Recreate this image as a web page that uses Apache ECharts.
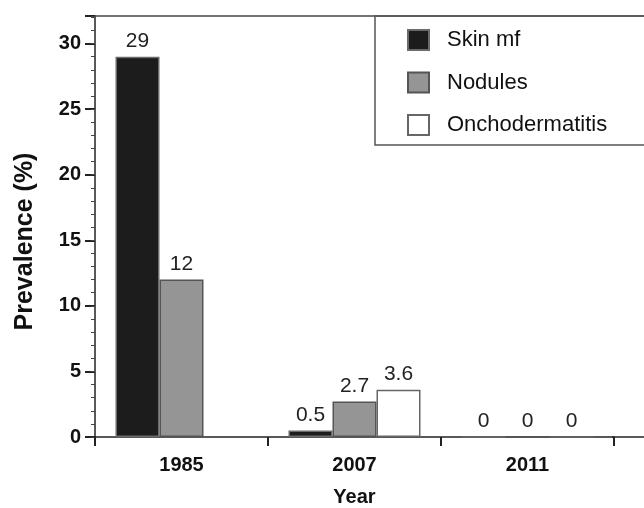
<!DOCTYPE html>
<html><head><meta charset="utf-8">
<script src="https://cdn.jsdelivr.net/npm/echarts@6/dist/echarts.min.js"></script>
<style>html,body{margin:0;padding:0;background:#fff}#c{width:644px;height:508px}</style>
</head><body><div id="c"></div>
<script>
var years = ['1985', '2007', '2011'];
var skinMf = [29, 0.5, 0];
var nodules = [12, 2.7, 0];
var onchodermatitis = [null, 3.6, 0];
var majorTicks = [0, 5, 10, 15, 20, 25, 30];

var chart = echarts.init(document.getElementById('c'));
var F = 'Liberation Sans, Arial, sans-serif';
function bar(name, data, fill, border) {
  return {
    name: name, type: 'bar', data: data, barWidth: 44, barGap: '0%',
    itemStyle: {color: fill, borderColor: border, borderWidth: 1.5},
    label: {show: true, position: 'top', distance: 5, fontFamily: F, fontSize: 21, color: '#222'}
  };
}
chart.setOption({
  animation: false,
  grid: {left: 95, right: 30, top: 16, bottom: 71, outerBoundsMode: 'none', containLabel: false},
  legend: {
    orient: 'vertical', left: 407, top: 29, padding: 0,
    itemGap: 20.5, itemWidth: 21, itemHeight: 20, icon: 'rect',
    textStyle: {fontFamily: F, fontSize: 22, color: '#111', lineHeight: 20, padding: [0, 0, 0, 13]},
    data: ['Skin mf', 'Nodules', 'Onchodermatitis']
  },
  xAxis: {
    type: 'category', data: years,
    axisLine: {lineStyle: {color: '#222', width: 1.5}},
    axisTick: {show: true, length: 9, lineStyle: {color: '#222', width: 2}},
    axisLabel: {fontFamily: F, fontSize: 20, fontWeight: 'bold', color: '#111', margin: 18},
    name: 'Year', nameLocation: 'middle', nameGap: 50,
    nameTextStyle: {fontFamily: F, fontSize: 20, fontWeight: 'bold', color: '#111'}
  },
  yAxis: [{
    type: 'value', min: 0, max: 32.1, interval: 5,
    splitLine: {show: false},
    axisLine: {show: true, lineStyle: {color: '#222', width: 1.5}},
    axisTick: {show: true, length: 10, lineStyle: {color: '#222', width: 2}},
    axisLabel: {fontFamily: F, fontSize: 20, fontWeight: 'bold', color: '#111', margin: 14,
      formatter: function (v) { return majorTicks.indexOf(v) >= 0 ? String(v) : ''; }},
    name: 'Prevalence (%)', nameLocation: 'middle', nameGap: 57,
    nameTextStyle: {fontFamily: F, fontSize: 25, fontWeight: 'bold', color: '#111', padding: [0, 30, 0, 0]}
  }, {
    type: 'value', min: 0, max: 32.1, interval: 1, position: 'left',
    splitLine: {show: false}, axisLine: {show: false},
    axisTick: {show: true, length: 4, lineStyle: {color: '#444', width: 1}},
    axisLabel: {show: false}
  }],
  graphic: [
    {type: 'line', shape: {x1: 95, y1: 16, x2: 644, y2: 16}, style: {stroke: '#444', lineWidth: 1.5}, z: 10},
    {type: 'rect', shape: {x: 375, y: 16, width: 300, height: 129}, style: {fill: 'none', stroke: '#555', lineWidth: 1.5}, z: 10},
    {type: 'line', shape: {x1: 612, y1: 437, x2: 644, y2: 437}, style: {stroke: '#222', lineWidth: 1.5}, z: 10}
  ],
  series: [
    bar('Skin mf', skinMf, '#1c1c1c', '#6a6a6a'),
    bar('Nodules', nodules, '#959595', '#555'),
    bar('Onchodermatitis', onchodermatitis, '#ffffff', '#666')
  ]
});
</script></body></html>
